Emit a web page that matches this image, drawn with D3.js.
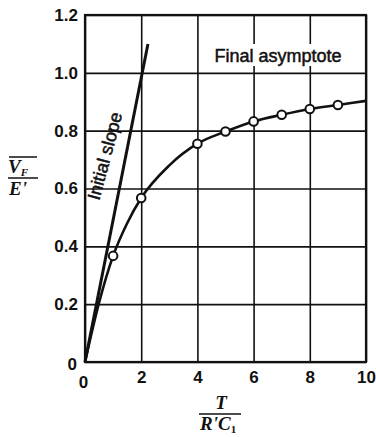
<!DOCTYPE html>
<html>
<head>
<meta charset="utf-8">
<script src="https://cdn.jsdelivr.net/npm/d3@7"></script>
<style>
  body { margin: 0; background: #fff; }
  text { font-family: "Liberation Sans", Arial, sans-serif; }
  text.serif { font-family: "Liberation Serif", "DejaVu Serif", serif; font-style: italic; font-weight: bold; }
</style>
</head>
<body>
<div id="chart"></div>
<script>
// data
const xTicks = [0, 2, 4, 6, 8, 10];
const yTicks = [0, 0.2, 0.4, 0.6, 0.8, 1.0, 1.2];
const yTickLabels = ["0", "0.2", "0.4", "0.6", "0.8", "1.0", "1.2"];

const pointT = [1, 2, 4, 5, 6, 7, 8, 9];
const pointV = [0.367, 0.567, 0.755, 0.797, 0.832, 0.855, 0.875, 0.889];

const curveT = [0, 0.5, 1, 1.5, 2, 3, 4, 5, 6, 7, 8, 9, 10];
const curveV = [0, 0.205, 0.367, 0.48, 0.567, 0.68, 0.755, 0.797, 0.832, 0.855, 0.875, 0.889, 0.903];

const slopeT = [0, 2.24];
const slopeV = [0, 1.1];

const width = 376, height = 437;
const plot = { left: 85, right: 366, top: 15, bottom: 362 };

const svg = d3.select("#chart")
  .append("svg")
  .attr("width", width)
  .attr("height", height);

const x = d3.scaleLinear().domain([0, 10]).range([plot.left, plot.right]);
const y = d3.scaleLinear().domain([0, 1.2]).range([plot.bottom, plot.top]);

// Grid + x axis
const xAxis = svg.append("g")
  .attr("transform", `translate(0,${plot.bottom})`)
  .call(d3.axisBottom(x).tickValues(xTicks).tickSize(-(plot.bottom - plot.top)).tickPadding(9).tickFormat(d3.format("d")));

// Grid + y axis
const yAxis = svg.append("g")
  .attr("transform", `translate(${plot.left},0)`)
  .call(d3.axisLeft(y).tickValues(yTicks).tickSize(-(plot.right - plot.left)).tickPadding(7)
    .tickFormat((d, i) => yTickLabels[i]));

svg.selectAll("path.domain").remove();
svg.selectAll(".tick line")
  .style("stroke", "#111")
  .style("stroke-width", "1.6px");
svg.selectAll(".tick text")
  .attr("fill", "#111")
  .style("font-size", "17px")
  .style("font-weight", "bold");

// nudge the two zero labels like the original
xAxis.selectAll(".tick text").filter(d => d === 0).attr("x", -2).attr("dy", "1em");
yAxis.selectAll(".tick text").filter(d => d === 0).attr("x", -8).attr("dy", "0.45em");

// Frame
svg.append("rect")
  .attr("x", plot.left).attr("y", plot.top)
  .attr("width", plot.right - plot.left).attr("height", plot.bottom - plot.top)
  .attr("fill", "none")
  .attr("stroke", "#111")
  .attr("stroke-width", 2.2);

// Labels on the plot
const fa = svg.append("g");
fa.append("rect")
  .attr("x", 209).attr("y", 44).attr("width", 138).attr("height", 22)
  .attr("fill", "#fff");
fa.append("text")
  .attr("x", 278).attr("y", 62)
  .attr("text-anchor", "middle")
  .attr("fill", "#111")
  .attr("stroke", "#111").attr("stroke-width", 0.5)
  .style("font-size", "18px")
  .text("Final asymptote");

svg.append("text")
  .attr("transform", "translate(105,156) rotate(-75)")
  .attr("text-anchor", "middle")
  .attr("dominant-baseline", "central")
  .attr("fill", "#111")
  .attr("stroke", "#111").attr("stroke-width", 0.5)
  .style("font-size", "18px")
  .text("Initial slope");

// Initial slope line
const line = d3.line().x(d => x(d[0])).y(d => y(d[1]));
svg.append("path")
  .datum(d3.zip(slopeT, slopeV))
  .attr("d", line)
  .attr("fill", "none")
  .attr("stroke", "#111")
  .attr("stroke-width", 3);

// Response curve
svg.append("path")
  .datum(d3.zip(curveT, curveV))
  .attr("d", line.curve(d3.curveMonotoneX))
  .attr("fill", "none")
  .attr("stroke", "#111")
  .attr("stroke-width", 2.6);

// Measured points
svg.selectAll("circle.pt")
  .data(d3.zip(pointT, pointV))
  .enter().append("circle")
  .attr("class", "pt")
  .attr("cx", d => x(d[0]))
  .attr("cy", d => y(d[1]))
  .attr("r", 4.3)
  .attr("fill", "#fff")
  .attr("stroke", "#111")
  .attr("stroke-width", 2);

// Axis titles (fractions)
const yt = svg.append("g").attr("fill", "#111");
const vt = yt.append("text").attr("class", "serif").attr("x", 8).attr("y", 173).style("font-size", "19px");
vt.append("tspan").text("V");
vt.append("tspan").attr("dy", 3).style("font-size", "11px").text("F");
yt.append("line").attr("x1", 9).attr("x2", 37).attr("y1", 157).attr("y2", 157)
  .attr("stroke", "#111").attr("stroke-width", 1.5);
yt.append("line").attr("x1", 8).attr("x2", 38).attr("y1", 178).attr("y2", 178)
  .attr("stroke", "#111").attr("stroke-width", 1.5);
yt.append("text").attr("class", "serif").attr("x", 9).attr("y", 195).style("font-size", "19px").text("E'");

const xt = svg.append("g").attr("fill", "#111");
xt.append("text").attr("class", "serif").attr("x", 221).attr("y", 409).attr("text-anchor", "middle")
  .style("font-size", "19px").text("T");
xt.append("line").attr("x1", 199).attr("x2", 241).attr("y1", 414).attr("y2", 414)
  .attr("stroke", "#111").attr("stroke-width", 1.5);
const rc = xt.append("text").attr("class", "serif").attr("x", 200).attr("y", 430).style("font-size", "19px");
rc.append("tspan").text("R'C");
rc.append("tspan").attr("dy", 3).style("font-size", "11px").style("font-style", "normal").text("1");
</script>
</body>
</html>
